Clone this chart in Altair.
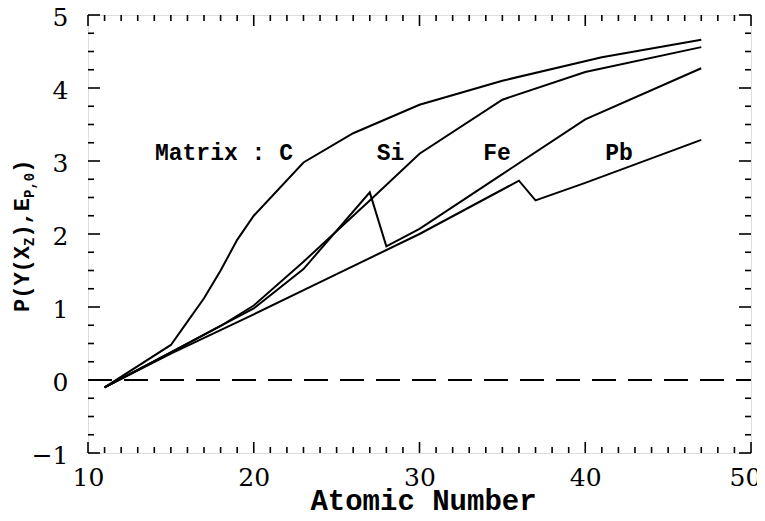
import altair as alt
import pandas as pd

# ---- data ----
z_c  = [11, 15, 16, 17, 18, 19, 20, 23, 26, 30, 35, 41, 47]
p_c  = [-0.1, 0.48, 0.80, 1.12, 1.50, 1.92, 2.25, 2.98, 3.38, 3.77, 4.10, 4.42, 4.66]
z_si = [11, 15, 18, 20, 23, 27, 30, 35, 40, 47]
p_si = [-0.1, 0.38, 0.74, 1.02, 1.62, 2.46, 3.10, 3.84, 4.22, 4.56]
z_fe = [11, 15, 18, 20, 23, 27, 28, 30, 35, 40, 47]
p_fe = [-0.1, 0.38, 0.74, 0.98, 1.52, 2.57, 1.83, 2.07, 2.82, 3.57, 4.27]
z_pb = [11, 15, 20, 25, 30, 36, 37, 40, 47]
p_pb = [-0.1, 0.36, 0.90, 1.45, 2.00, 2.73, 2.46, 2.70, 3.29]

x_major = [10, 20, 30, 40, 50]
x_minor = [v for v in range(11, 50) if v % 10 != 0]
y_major = [-1, 0, 1, 2, 3, 4, 5]
y_minor = [v / 4 for v in range(-4, 20) if v % 4 != 0]

label_text = ["Matrix : C", "Si", "Fe", "Pb"]
label_z = [14.04, 28.25, 34.68, 42.04]
label_p = [3.11, 3.11, 3.11, 3.11]
label_align = ["left", "center", "center", "center"]

# ---- tables ----
rows = []
for name, zs, ps in [("C", z_c, p_c), ("Si", z_si, p_si), ("Fe", z_fe, p_fe), ("Pb", z_pb, p_pb)]:
    for i, (z, p) in enumerate(zip(zs, ps)):
        rows.append({"matrix": name, "Z": z, "P": p, "i": i})
df = pd.DataFrame(rows)

W, H = 663, 438
MONO = "Liberation Mono"
SERIF = "DejaVu Serif"

xs = alt.Scale(domain=[10, 50], nice=False, zero=False)
ys = alt.Scale(domain=[-1, 5], nice=False, zero=False)
xaxis = alt.Axis(values=x_major, ticks=False, domain=False, grid=False, title=None,
                 labelFont=SERIF, labelFontSize=25, labelColor="black",
                 labelPadding=12, labelFlush=False, labelOverlap=False,
                 labelOffset=alt.ExprRef(expr="datum.value == 50 ? -6 : 0"))
yaxis = alt.Axis(values=y_major, ticks=False, domain=False, grid=False, title=None,
                 labelFont=SERIF, labelFontSize=25, labelColor="black",
                 labelPadding=20, labelOffset=2, labelFlush=False, labelOverlap=False)

def X(f):
    return alt.X(f, type="quantitative", scale=xs, axis=xaxis)

def Y(f):
    return alt.Y(f, type="quantitative", scale=ys, axis=yaxis)

lines = alt.Chart(df).mark_line(color="black", strokeWidth=2).encode(
    x=X("Z"), y=Y("P"), detail="matrix:N", order="i:O")

zero = alt.Chart(pd.DataFrame({"a": [10], "b": [50], "y": [0]})).mark_rule(
    color="black", strokeWidth=2, strokeDash=[24, 12]).encode(
    x=X("a"), x2="b:Q", y=Y("y"))

def xticks(vals, ln):
    d = pd.DataFrame({"v": vals})
    bot = alt.Chart(d).mark_rule(color="black", strokeWidth=1.6).encode(
        x=X("v"), y=alt.value(H), y2=alt.value(H - ln))
    top = alt.Chart(d).mark_rule(color="black", strokeWidth=1.6).encode(
        x=X("v"), y=alt.value(0), y2=alt.value(ln))
    return [bot, top]

def yticks(vals, ln):
    d = pd.DataFrame({"v": vals})
    lef = alt.Chart(d).mark_rule(color="black", strokeWidth=1.6).encode(
        y=Y("v"), x=alt.value(0), x2=alt.value(ln))
    rig = alt.Chart(d).mark_rule(color="black", strokeWidth=1.6).encode(
        y=Y("v"), x=alt.value(W), x2=alt.value(W - ln))
    return [lef, rig]

ticks = xticks(x_major, 11) + xticks(x_minor, 6) + yticks(y_major, 12) + yticks(y_minor, 6)

lab_df = pd.DataFrame({"t": label_text, "z": label_z, "p": label_p, "al": label_align})
labels = []
for al in ["left", "center"]:
    labels.append(alt.Chart(lab_df[lab_df.al == al]).mark_text(
        font=MONO, fontWeight="bold", fontSize=23, align=al, baseline="middle",
        color="black").encode(x=X("z"), y=Y("p"), text="t:N"))

xtitle = alt.Chart(pd.DataFrame({"t": ["Atomic Number"]})).mark_text(
    font=MONO, fontWeight="bold", fontSize=29, align="center", baseline="alphabetic",
    color="black").encode(x=alt.value(W / 2 + 4), y=alt.value(495), text="t:N")

# y title composed of pieces (with subscripts), rotated
pieces = [("P(Y(X", 22, 0), ("Z", 14, 5), ("),E", 22, 0), ("P,0", 14, 5), (")", 22, 0)]
ytitle = []
ypos = 297.0
for txt, size, shift in pieces:
    ytitle.append(alt.Chart(pd.DataFrame({"t": [txt]})).mark_text(
        font=MONO, fontWeight="bold", fontSize=size, angle=270, align="left",
        baseline="alphabetic", color="black").encode(
        x=alt.value(-59 + shift), y=alt.value(ypos), text="t:N"))
    ypos -= 0.6 * size * len(txt)

chart = alt.layer(lines, zero, *ticks, *labels, xtitle, *ytitle).properties(
    width=W, height=H,
    autosize=alt.AutoSizeParams(type="none"),
    padding={"left": 80, "top": 7, "right": 6, "bottom": 60},
).configure_view(stroke="black", strokeWidth=2).configure(background="white")

chart.save("out.html", embed_options={"renderer": "svg", "actions": False})
